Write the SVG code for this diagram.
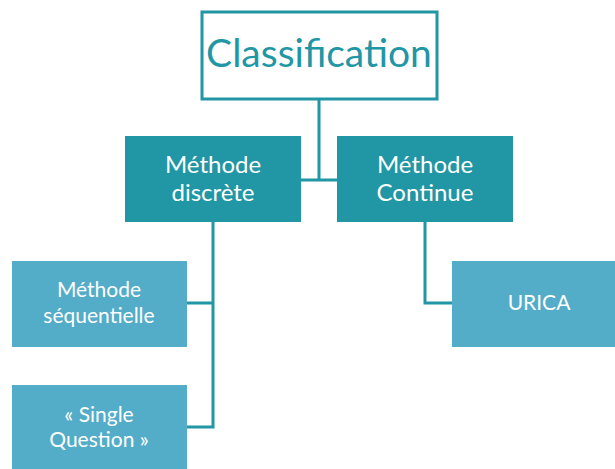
<svg xmlns="http://www.w3.org/2000/svg" width="615" height="469" viewBox="0 0 615 469">
<style>
.t{font-family:Lato,"Liberation Sans",sans-serif;text-anchor:middle}
.w{fill:#ffffff}
.dark{fill:#2196A5}
.light{fill:#53ACC8}
.con{fill:none;stroke:#2196A5;stroke-width:3}
</style>
<rect width="615" height="469" fill="#ffffff"/>
<g id="connectors">
<path class="con" d="M319 99 V180 M301 180 H337"/>
<path class="con" d="M213 222 V427 H187 M213 303 H187"/>
<path class="con" d="M425 222 V303 H452"/>
</g>
<g id="classification">
<rect x="202" y="12" width="235" height="87" fill="#ffffff" stroke="#2196A5" stroke-width="3"/>
<text class="t" x="319" y="67" font-size="39" fill="#2196A5">Classification</text>
</g>
<g id="methode-discrete">
<rect class="dark" x="125" y="136" width="176" height="86"/>
<text class="t w" x="213" y="173" font-size="24">Méthode</text>
<text class="t w" x="213" y="201" font-size="24">discrète</text>
</g>
<g id="methode-continue">
<rect class="dark" x="337" y="136" width="176" height="86"/>
<text class="t w" x="425" y="173" font-size="24">Méthode</text>
<text class="t w" x="425" y="201" font-size="24">Continue</text>
</g>
<g id="methode-sequentielle">
<rect class="light" x="12" y="261" width="175" height="86"/>
<text class="t w" x="99" y="297" font-size="21">Méthode</text>
<text class="t w" x="99" y="323" font-size="21">séquentielle</text>
</g>
<g id="single-question">
<rect class="light" x="12" y="385" width="175" height="86"/>
<text class="t w" x="99" y="422" font-size="21">« Single</text>
<text class="t w" x="99" y="447" font-size="21">Question »</text>
</g>
<g id="urica">
<rect class="light" x="452" y="261" width="175" height="86"/>
<text class="t w" x="539" y="310" font-size="21">URICA</text>
</g>
</svg>
